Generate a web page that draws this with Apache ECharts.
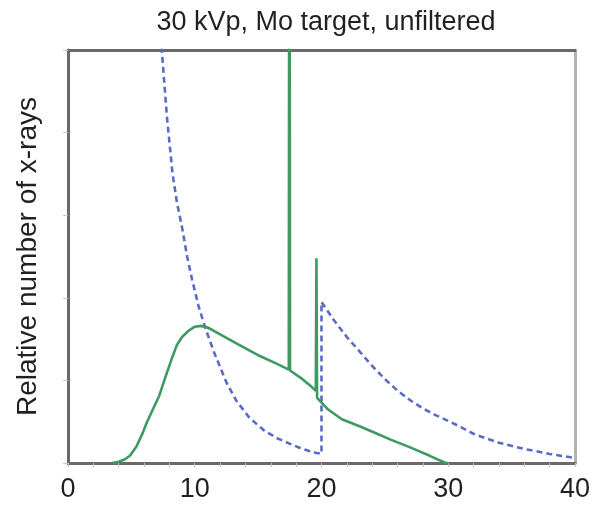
<!DOCTYPE html>
<html><head><meta charset="utf-8">
<script src="https://cdn.jsdelivr.net/npm/echarts@6/dist/echarts.min.js"></script>
<style>html,body{margin:0;padding:0;background:#fff}#c{width:593px;height:509px}</style>
</head><body><div id="c"></div>
<script>
const titleText = "30 kVp, Mo target, unfiltered";
const yAxisName = "Relative number of x-rays";
const xTickLabels = [0, 10, 20, 30, 40];
// Green: Mo target spectrum (keV, relative count); spikes are the characteristic lines
const spectrumEnergy = [3.5,4,4.5,4.9,5.4,5.9,6.2,6.7,7.2,7.6,8.2,8.6,9.0,9.5,10.0,10.5,11.0,11.4,12.5,13.5,15,16.5,17.42,17.47,17.52,18.5,19.2,19.55,19.6,19.65,20.5,21.6,23,24.3,25.5,26.9,28.5,29.8,30];
const spectrumValue  = [0,0.3,0.9,1.8,4,7.3,9.7,13,16.3,20,25.4,28.6,30.5,32,33,33.2,32.8,32.2,30.3,28.6,26.1,24,22.6,200,22.4,20.3,18.5,17.5,49.6,15.8,13,10.6,8.9,7.2,5.6,3.9,1.8,0,0];
// Blue dashed: attenuation-type curve with edge at 20 keV
const edgeEnergy = [7.2,7.4,7.8,8.25,8.6,9.0,9.4,9.8,10.3,10.8,11.5,12.5,13.3,14.3,15.5,16.5,17.4,18.5,19.5,20.0,20.0,21,22,22.9,24,25,26,27,28,29,30,31,32.1,34,36,38,40];
const edgeValue  = [108,100,84,70,63,57,50,44.3,38,33,27,19.5,15,11,7.8,6,4.8,3.4,2.5,2.2,39,34.5,30.5,27.4,23.5,20.3,17.5,15.2,13.2,11.6,10.2,8.7,6.9,4.9,3.4,2.2,1.2];

const pairs = (xs, ys) => xs.map((x, i) => [x, ys[i]]);
const font = "Liberation Sans, Arial, sans-serif";
const chart = echarts.init(document.getElementById('c'), null, {renderer: 'canvas'});
chart.setOption({
  animation: false,
  backgroundColor: '#ffffff',
  title: {
    text: titleText, left: 321, top: 4, textAlign: 'center',
    textStyle: {fontFamily: font, fontSize: 27, fontWeight: 'normal', color: '#231f20'}
  },
  grid: {left: 68, right: 16, top: 50, bottom: 46},
  xAxis: [{
    type: 'value', min: 0, max: 40, interval: 2,
    axisLine: {show: true, onZero: false, lineStyle: {color: '#6e6868', width: 3}},
    axisTick: {show: true, length: 4, lineStyle: {color: '#c8c4c4', width: 1}},
    axisLabel: {
      fontFamily: font, fontSize: 27, color: '#231f20', margin: 13,
      formatter: v => (xTickLabels.includes(v) ? String(v) : '')
    },
    splitLine: {show: false}
  }, {
    type: 'value', min: 0, max: 40, position: 'top',
    axisLine: {show: true, onZero: false, lineStyle: {color: '#6e6868', width: 3}},
    axisTick: {show: false}, axisLabel: {show: false}, splitLine: {show: false}
  }],
  yAxis: [{
    type: 'value', min: 0, max: 100, interval: 20,
    name: yAxisName, nameLocation: 'middle', nameGap: 26,
    nameTextStyle: {fontFamily: font, fontSize: 28, color: '#231f20'},
    axisLine: {show: true, onZero: false, lineStyle: {color: '#6e6868', width: 3}},
    axisTick: {show: true, length: 5, lineStyle: {color: '#c8c4c4', width: 1}},
    axisLabel: {show: false},
    splitLine: {show: false}
  }, {
    type: 'value', min: 0, max: 100, position: 'right',
    axisLine: {show: true, onZero: false, lineStyle: {color: '#b8b0b0', width: 3}},
    axisTick: {show: false}, axisLabel: {show: false}, splitLine: {show: false}
  }],
  series: [{
    type: 'line', data: pairs(edgeEnergy, edgeValue), showSymbol: false, smooth: false,
    clip: true, z: 2,
    lineStyle: {color: '#5a6bc6', width: 2.6, type: [6, 4]}
  }, {
    type: 'line', data: pairs(spectrumEnergy, spectrumValue), showSymbol: false, smooth: false,
    clip: true, z: 3,
    lineStyle: {color: '#3c9a62', width: 2.6}
  }]
});
</script></body></html>
